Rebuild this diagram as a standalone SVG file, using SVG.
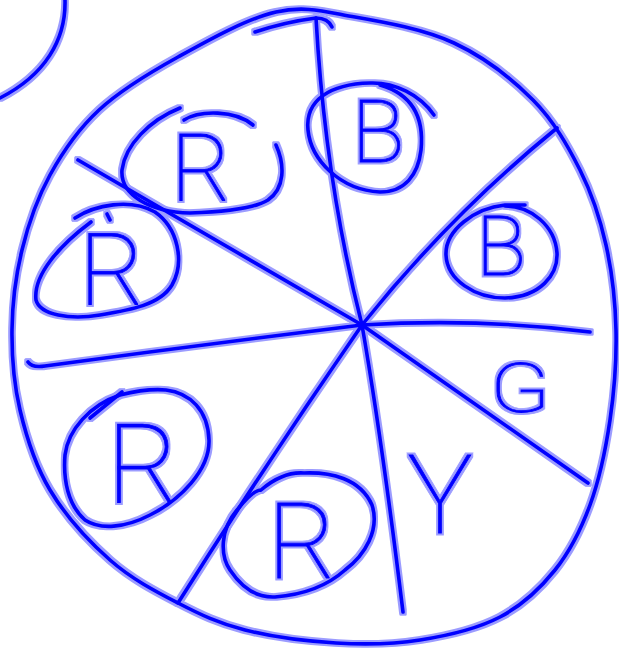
<svg xmlns="http://www.w3.org/2000/svg" width="619" height="650" viewBox="0 0 619 650">
<defs>
<filter id="glow" x="-5%" y="-5%" width="110%" height="110%" color-interpolation-filters="sRGB">
<feMorphology in="SourceGraphic" operator="dilate" radius="2" result="d"/>
<feColorMatrix in="d" type="matrix" values="0 0 0 0 0.35  0 0 0 0 0.35  0 0 0 0 1  0 0 0 0.6 0" result="h"/>
<feMerge><feMergeNode in="h"/><feMergeNode in="SourceGraphic"/></feMerge>
</filter>
<style>
.ink{fill:none;stroke:#0000ff;stroke-width:3.6;stroke-linecap:round;stroke-linejoin:round}
.lt{fill:#0000ff;stroke:#0000ff;stroke-width:0.8;font-family:Roboto,"Liberation Sans",sans-serif;font-weight:100;text-anchor:middle}
</style>
</defs>
<rect width="619" height="650" fill="#ffffff"/>
<g filter="url(#glow)">
<g id="wheel" class="ink">
<path d="M276,12 C305.5,5.3 325.3,11.8 355,17 C384.7,22.2 424.3,29.2 454,43 C483.7,56.8 512,78.8 533,100 C554,121.2 567.8,145.8 580,170 C592.2,194.2 600,218.3 606,245 C612,271.7 615.3,300.8 616,330 C616.7,359.2 614.3,390.8 610,420 C605.7,449.2 599.2,480 590,505 C580.8,530 570,551.3 555,570 C540,588.7 522.5,605.3 500,617 C477.5,628.7 447.3,635.7 420,640 C392.7,644.3 365.2,644.7 336,643 C306.8,641.3 271.3,636.7 245,630 C218.7,623.3 200.5,614.7 178,603 C155.5,591.3 131.3,578.8 110,560 C88.7,541.2 65,515 50,490 C35,465 26.3,436.7 20,410 C13.7,383.3 11.7,356.7 12,330 C12.3,303.3 15.7,275.8 22,250 C28.3,224.2 37.2,198.3 50,175 C62.8,151.7 77.7,129.7 99,110 C120.3,90.3 148.5,73.3 178,57 C207.5,40.7 246.5,18.7 276,12"/>
<path d="M255,32 Q285,22 316,18 Q328,18 332,27"/>
<path d="M65,0 C66,40 45,75 0,98"/>
</g>
<g id="connectors" class="ink">
<path d="M316,18 Q325,180 362,325"/>
<path d="M78,160 L362,325"/>
<path d="M557,128 Q450,215 362,325"/>
<path d="M362,325 Q480,318 590,332"/>
<path d="M28,362 Q32,368 45,366 Q200,345 362,325"/>
<path d="M362,325 L588,483"/>
<path d="M362,325 Q382,440 403,612"/>
<path d="M362,325 Q265,465 178,603"/>
</g>
<g id="node-r1">
<path class="ink" d="M180,108 C150,120 125,145 122,170 C120,195 150,212 190,213 C225,212 255,208 268,200 C285,188 285,165 276,145"/>
<path class="ink" d="M184,120 C200,110 235,110 253,125"/>
<text class="lt" x="201" y="200" font-size="92">R</text>
</g>
<g id="node-b1">
<path class="ink" d="M434,115 C420,95 395,82 370,83 C330,84 305,100 308,130 C311,160 340,190 380,192 C405,192 418,175 421,150 C424,120 415,95 380,85"/>
<text class="lt" x="378" y="162" font-size="88">B</text>
</g>
<g id="node-b2">
<path class="ink" d="M525,205 L505,205 C475,208 445,230 446,255 C447,280 475,298 505,298 C540,297 558,275 557,253 C555,225 530,206 505,206"/>
<text class="lt" x="501" y="275" font-size="83">B</text>
</g>
<g id="node-r2">
<path class="ink" d="M75,218 C95,205 130,198 155,212 C178,228 185,262 172,285 C160,305 130,310 100,315 C70,320 40,315 36,300 C33,275 60,245 91,222"/>
<path class="ink" d="M107,214 L110,220"/>
<text class="lt" x="112" y="305" font-size="100">R</text>
</g>
<g id="node-r3">
<path class="ink" d="M166,390 C190,393 208,410 209,440 C210,470 180,500 150,515 C125,528 100,530 85,520 C68,505 63,480 65,455 C68,430 90,405 120,395 C140,390 155,389 166,390"/>
<path class="ink" d="M122,392 L90,418"/>
<text class="lt" x="143" y="502" font-size="110">R</text>
</g>
<g id="node-r4">
<path class="ink" d="M261,490 C275,478 290,472 304,473 C330,472 360,478 372,505 C380,530 365,555 345,570 C325,588 300,595 275,597 C255,598 240,585 230,570 C220,555 220,530 237,510 C245,500 255,490 261,490"/>
<text class="lt" x="302" y="578" font-size="105">R</text>
</g>
<g id="node-g">
<text class="lt" x="520" y="412" font-size="68" transform="translate(520 412) scale(1.3 1) translate(-520 -412)">G</text>
</g>
<g id="node-y">
<text class="lt" x="440" y="533" font-size="110">Y</text>
</g>
</g>
</svg>
